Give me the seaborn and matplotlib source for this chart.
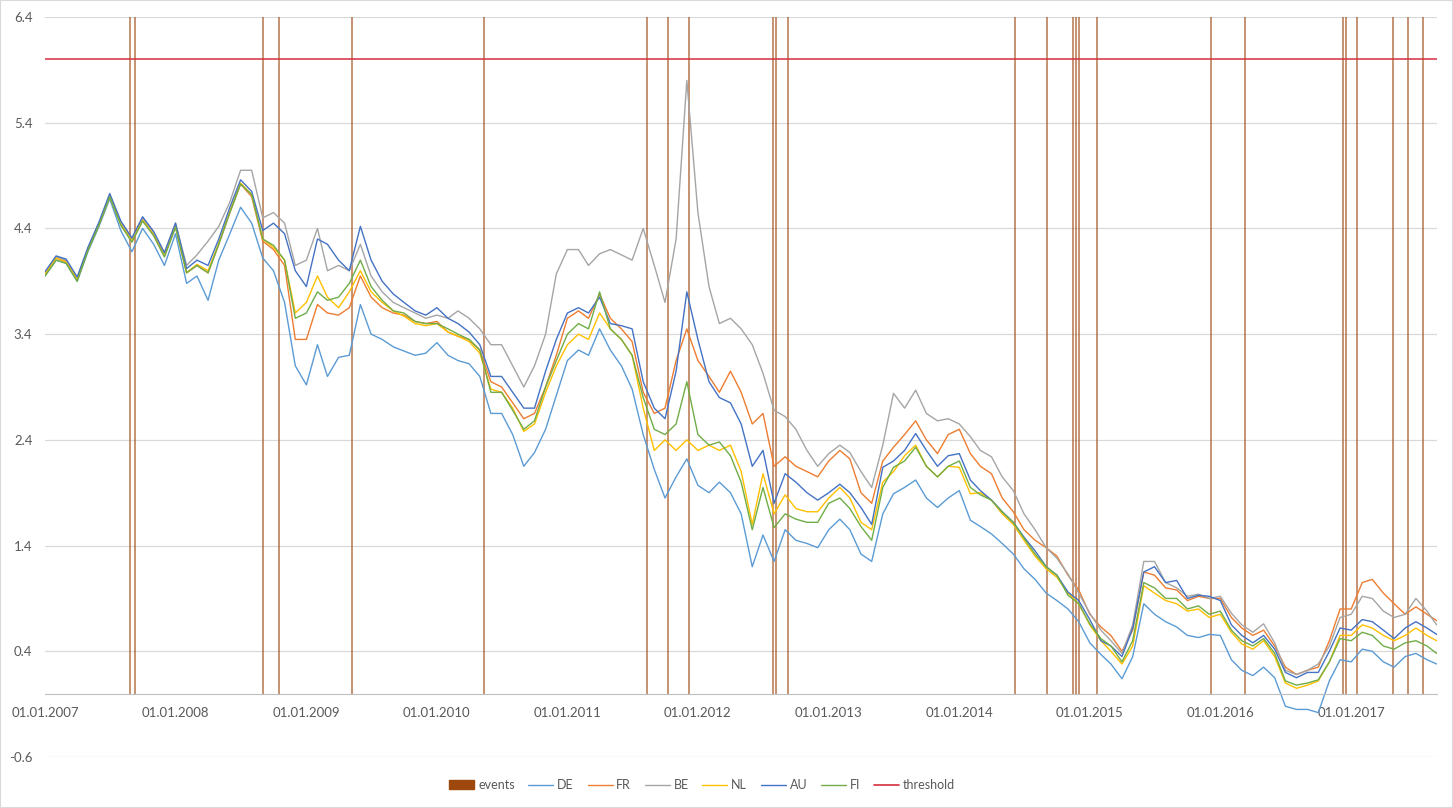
import pandas as pd
import matplotlib.pyplot as plt
import matplotlib.dates as mdates
import seaborn as sns
from matplotlib.patches import Patch, Rectangle
from matplotlib.lines import Line2D

sns.set_style("white")
plt.rcParams['font.family'] = ['Lato', 'DejaVu Sans']

# monthly readings, Jan 2007 .. Aug 2017 (+ last day)
dates = list(pd.date_range('2007-01-01', '2017-08-01', freq='MS')) + [pd.Timestamp('2017-08-28')]

de = [3.95, 4.10, 4.07, 3.90, 4.18, 4.42, 4.68, 4.38, 4.18, 4.40, 4.25, 4.05,
      4.35, 3.88, 3.95, 3.72, 4.10, 4.35, 4.60, 4.45, 4.12, 4.00, 3.70, 3.10,
      2.92, 3.30, 3.00, 3.18, 3.20, 3.68, 3.40, 3.35, 3.28, 3.24, 3.20, 3.22,
      3.32, 3.20, 3.15, 3.12, 3.00, 2.65, 2.65, 2.45, 2.15, 2.28, 2.50, 2.82,
      3.15, 3.25, 3.20, 3.45, 3.25, 3.10, 2.88, 2.45, 2.12, 1.85, 2.05, 2.22,
      1.97, 1.90, 2.00, 1.90, 1.70, 1.20, 1.50, 1.25, 1.55, 1.45, 1.42, 1.38,
      1.55, 1.65, 1.55, 1.32, 1.25, 1.70, 1.89, 1.95, 2.02, 1.85, 1.76, 1.85,
      1.92, 1.64, 1.58, 1.51, 1.42, 1.32, 1.18, 1.08, 0.95, 0.88, 0.80, 0.68,
      0.48, 0.37, 0.28, 0.14, 0.35, 0.85, 0.75, 0.68, 0.63, 0.55, 0.53, 0.56,
      0.55, 0.32, 0.22, 0.17, 0.25, 0.15, -0.12, -0.15, -0.15, -0.18, 0.12, 0.32,
      0.30, 0.42, 0.40, 0.30, 0.25, 0.35, 0.38, 0.32, 0.28]

fr = [3.97, 4.12, 4.09, 3.92, 4.20, 4.44, 4.71, 4.44, 4.28, 4.48, 4.34, 4.14,
      4.42, 3.98, 4.05, 3.98, 4.25, 4.55, 4.82, 4.70, 4.28, 4.20, 4.05, 3.35,
      3.35, 3.68, 3.60, 3.58, 3.65, 3.95, 3.75, 3.65, 3.60, 3.58, 3.52, 3.50,
      3.52, 3.42, 3.38, 3.35, 3.25, 2.95, 2.90, 2.75, 2.60, 2.65, 2.90, 3.20,
      3.55, 3.62, 3.55, 3.78, 3.55, 3.45, 3.33, 2.85, 2.65, 2.70, 3.15, 3.45,
      3.15, 3.00, 2.85, 3.05, 2.85, 2.55, 2.65, 2.15, 2.24, 2.15, 2.10, 2.05,
      2.20, 2.30, 2.22, 1.90, 1.80, 2.20, 2.33, 2.45, 2.58, 2.40, 2.27, 2.45,
      2.50, 2.27, 2.15, 2.08, 1.85, 1.72, 1.55, 1.45, 1.38, 1.30, 1.12, 0.98,
      0.75, 0.63, 0.55, 0.40, 0.60, 1.15, 1.12, 1.00, 0.98, 0.88, 0.92, 0.90,
      0.90, 0.72, 0.62, 0.55, 0.60, 0.45, 0.25, 0.18, 0.22, 0.25, 0.50, 0.80,
      0.80, 1.05, 1.08, 0.95, 0.85, 0.75, 0.82, 0.75, 0.69]

be = [3.98, 4.13, 4.10, 3.93, 4.21, 4.45, 4.72, 4.46, 4.30, 4.50, 4.36, 4.17,
      4.45, 4.05, 4.15, 4.28, 4.42, 4.65, 4.95, 4.95, 4.50, 4.55, 4.45, 4.05,
      4.10, 4.40, 4.00, 4.05, 4.00, 4.25, 3.95, 3.80, 3.70, 3.65, 3.60, 3.55,
      3.58, 3.55, 3.62, 3.55, 3.45, 3.30, 3.30, 3.10, 2.90, 3.10, 3.40, 3.97,
      4.20, 4.20, 4.05, 4.16, 4.20, 4.15, 4.10, 4.40, 4.05, 3.70, 4.30, 5.80,
      4.55, 3.85, 3.50, 3.55, 3.45, 3.30, 3.03, 2.68, 2.62, 2.50, 2.30, 2.15,
      2.27, 2.35, 2.28, 2.10, 1.95, 2.35, 2.84, 2.70, 2.87, 2.65, 2.58, 2.60,
      2.55, 2.43, 2.30, 2.24, 2.05, 1.92, 1.70, 1.55, 1.38, 1.28, 1.13, 0.95,
      0.76, 0.60, 0.50, 0.38, 0.65, 1.25, 1.25, 1.05, 1.00, 0.92, 0.94, 0.90,
      0.92, 0.76, 0.65, 0.58, 0.66, 0.48, 0.22, 0.18, 0.22, 0.28, 0.45, 0.72,
      0.75, 0.92, 0.90, 0.78, 0.72, 0.75, 0.90, 0.78, 0.65]

nl = [3.97, 4.12, 4.08, 3.92, 4.20, 4.44, 4.70, 4.44, 4.28, 4.48, 4.34, 4.14,
      4.42, 3.98, 4.06, 4.00, 4.26, 4.56, 4.83, 4.72, 4.30, 4.22, 4.10, 3.60,
      3.70, 3.95, 3.75, 3.65, 3.80, 4.00, 3.80, 3.70, 3.62, 3.57, 3.50, 3.48,
      3.50, 3.42, 3.38, 3.33, 3.22, 2.88, 2.85, 2.70, 2.48, 2.55, 2.85, 3.10,
      3.30, 3.40, 3.35, 3.60, 3.45, 3.35, 3.20, 2.70, 2.30, 2.40, 2.30, 2.40,
      2.30, 2.35, 2.30, 2.35, 2.10, 1.60, 2.08, 1.70, 1.88, 1.75, 1.72, 1.72,
      1.85, 1.95, 1.85, 1.62, 1.55, 2.00, 2.10, 2.25, 2.35, 2.15, 2.05, 2.15,
      2.14, 1.89, 1.90, 1.83, 1.70, 1.60, 1.45, 1.30, 1.18, 1.10, 0.95, 0.85,
      0.65, 0.50, 0.40, 0.28, 0.45, 1.02, 0.95, 0.88, 0.85, 0.78, 0.80, 0.72,
      0.75, 0.58, 0.47, 0.42, 0.50, 0.35, 0.10, 0.05, 0.08, 0.12, 0.30, 0.55,
      0.55, 0.65, 0.62, 0.55, 0.50, 0.55, 0.62, 0.55, 0.50]

au = [3.99, 4.14, 4.11, 3.94, 4.22, 4.46, 4.73, 4.47, 4.31, 4.51, 4.37, 4.17,
      4.45, 4.02, 4.10, 4.05, 4.30, 4.60, 4.86, 4.75, 4.38, 4.45, 4.35, 4.00,
      3.85, 4.30, 4.25, 4.10, 4.00, 4.42, 4.10, 3.90, 3.78, 3.70, 3.62, 3.58,
      3.65, 3.55, 3.50, 3.42, 3.30, 3.00, 3.00, 2.85, 2.70, 2.70, 3.05, 3.35,
      3.60, 3.65, 3.60, 3.75, 3.50, 3.48, 3.45, 2.95, 2.70, 2.60, 3.05, 3.80,
      3.35, 2.95, 2.80, 2.75, 2.55, 2.15, 2.30, 1.80, 2.08, 2.00, 1.90, 1.83,
      1.90, 1.98, 1.90, 1.76, 1.60, 2.14, 2.20, 2.30, 2.46, 2.30, 2.15, 2.25,
      2.27, 2.02, 1.92, 1.83, 1.72, 1.62, 1.48, 1.35, 1.20, 1.12, 0.96, 0.88,
      0.70, 0.50, 0.45, 0.35, 0.62, 1.15, 1.20, 1.05, 1.07, 0.90, 0.93, 0.92,
      0.88, 0.65, 0.55, 0.48, 0.55, 0.42, 0.20, 0.15, 0.20, 0.20, 0.40, 0.62,
      0.60, 0.70, 0.68, 0.60, 0.52, 0.62, 0.68, 0.62, 0.56]

fi = [3.95, 4.10, 4.07, 3.90, 4.19, 4.43, 4.70, 4.43, 4.27, 4.47, 4.33, 4.13,
      4.41, 3.98, 4.05, 3.98, 4.25, 4.55, 4.82, 4.72, 4.30, 4.24, 4.10, 3.55,
      3.60, 3.80, 3.72, 3.75, 3.88, 4.10, 3.85, 3.72, 3.62, 3.60, 3.52, 3.50,
      3.50, 3.45, 3.40, 3.35, 3.25, 2.85, 2.85, 2.68, 2.50, 2.58, 2.90, 3.15,
      3.40, 3.50, 3.45, 3.80, 3.45, 3.35, 3.20, 2.80, 2.50, 2.45, 2.55, 2.95,
      2.45, 2.35, 2.38, 2.25, 2.00, 1.55, 1.95, 1.57, 1.70, 1.65, 1.62, 1.62,
      1.80, 1.85, 1.75, 1.58, 1.45, 1.95, 2.14, 2.20, 2.33, 2.15, 2.05, 2.15,
      2.20, 1.95, 1.88, 1.83, 1.72, 1.62, 1.47, 1.32, 1.20, 1.12, 0.93, 0.85,
      0.66, 0.52, 0.45, 0.30, 0.50, 1.05, 1.00, 0.90, 0.90, 0.80, 0.83, 0.75,
      0.78, 0.60, 0.50, 0.45, 0.52, 0.38, 0.12, 0.08, 0.10, 0.13, 0.30, 0.52,
      0.50, 0.58, 0.55, 0.45, 0.42, 0.48, 0.50, 0.45, 0.38]

event_dates = pd.to_datetime([
    '2007-08-27', '2007-09-10', '2008-09-01', '2008-10-17', '2009-05-09',
    '2010-05-12', '2011-08-11', '2011-10-08', '2011-12-08', '2012-07-30',
    '2012-08-05', '2012-09-10', '2014-06-05', '2014-09-02', '2014-11-16',
    '2014-11-24', '2014-12-01', '2015-01-22', '2015-12-05', '2016-03-10',
    '2016-12-08', '2016-12-17', '2017-01-17', '2017-04-28', '2017-06-09',
    '2017-07-20'])
event_height = 6.4
threshold = 6.0

countries = ['DE', 'FR', 'BE', 'NL', 'AU', 'FI']
values = [de, fr, be, nl, au, fi]
palette = {'DE': '#5B9BD5', 'FR': '#ED7D31', 'BE': '#A5A5A5',
           'NL': '#FFC000', 'AU': '#4472C4', 'FI': '#70AD47'}
event_color = '#9E480E'
threshold_color = '#D42F3E'

df = pd.concat([pd.DataFrame({'date': dates, 'value': v, 'country': c})
                for c, v in zip(countries, values)], ignore_index=True)

fig = plt.figure(figsize=(14.53, 8.08), dpi=100)
ax = fig.add_axes([45 / 1453, 51 / 808, (1437 - 45) / 1453, (757 - 17) / 808])

# events drawn as thin columns from the axis to the top
ax.vlines(event_dates, 0, event_height, color=event_color, lw=1.1, alpha=0.75, zorder=1)
sns.lineplot(data=df, x='date', y='value', hue='country', palette=palette,
             linewidth=1.0, ax=ax, legend=False, zorder=2)
ax.axhline(threshold, color=threshold_color, lw=1.1, zorder=3)

# axes styling, Excel look
yticks = [-0.6, 0.4, 1.4, 2.4, 3.4, 4.4, 5.4, 6.4]
ax.set_ylim(-0.6, 6.4)
ax.set_yticks(yticks)
ax.set_yticklabels([f'{t:.1f}' for t in yticks])
ax.set_xlim(pd.Timestamp('2007-01-01'), pd.Timestamp('2017-08-29'))
ax.set_xticks(pd.date_range('2007-01-01', '2017-01-01', freq='YS'))
ax.xaxis.set_major_formatter(mdates.DateFormatter('%d.%m.%Y'))
ax.yaxis.grid(True, color='#D9D9D9', lw=0.9)
ax.set_axisbelow(True)
for s in ['left', 'top', 'right']:
    ax.spines[s].set_visible(False)
ax.spines['bottom'].set_position(('data', 0))
ax.spines['bottom'].set_color('#BFBFBF')
ax.tick_params(axis='x', direction='out', length=5, color='#BFBFBF',
               labelsize=9.5, labelcolor='#595959', pad=5)
ax.tick_params(axis='y', length=0, labelsize=9.5, labelcolor='#595959', pad=9)
ax.set_xlabel('')
ax.set_ylabel('')

handles = [Patch(color=event_color)] + \
          [Line2D([], [], color=palette[c], lw=1.0) for c in countries] + \
          [Line2D([], [], color=threshold_color, lw=1.2)]
labels = ['events'] + countries + ['threshold']
fig.legend(handles, labels, loc='center', bbox_to_anchor=(702 / 1453, 1 - 785 / 808),
           ncol=8, frameon=False, fontsize=9, handlelength=2.0,
           columnspacing=1.1, labelcolor='#595959', handletextpad=0.3)

fig.patches.append(Rectangle((0, 0), 1, 1, transform=fig.transFigure, fill=False,
                             edgecolor='#D9D9D9', lw=1.5))

fig.savefig('out.png', dpi=100)
